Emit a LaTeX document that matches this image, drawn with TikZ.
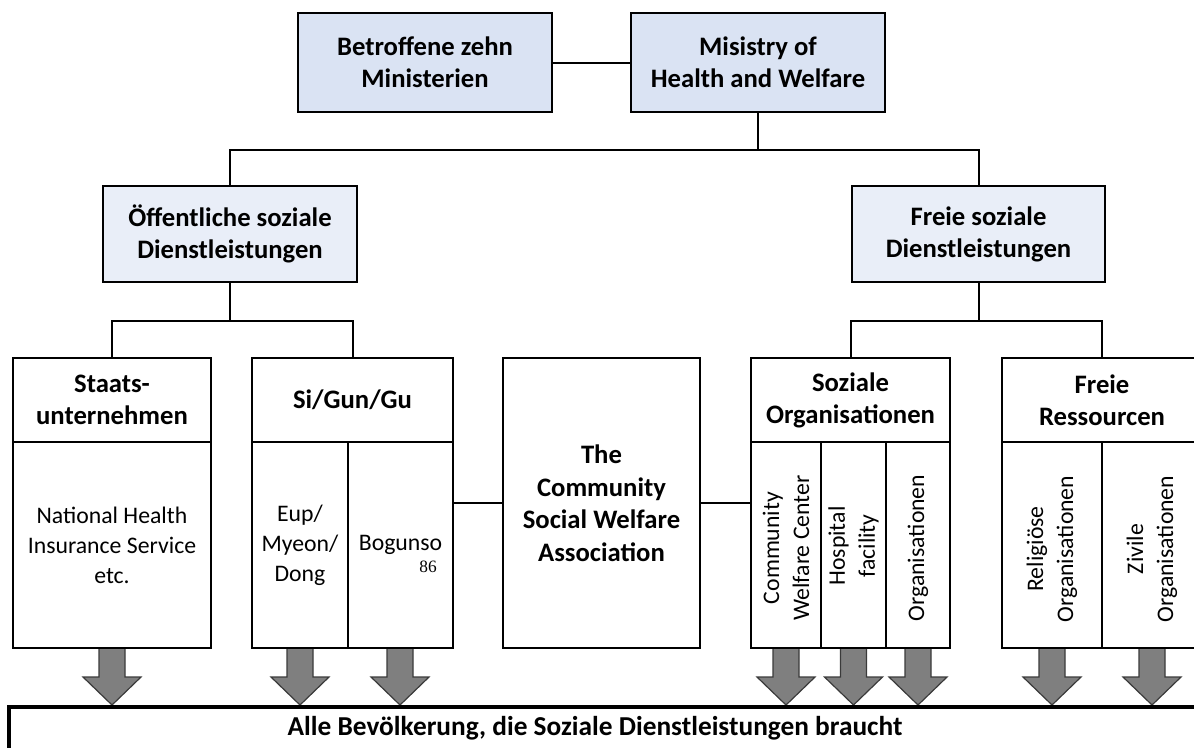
\documentclass[tikz,border=0pt]{standalone}
\usepackage{fontspec}
\setmainfont{Carlito}
\newfontfamily\numserif{Liberation Serif}
\usetikzlibrary{calc}
\definecolor{topblue}{HTML}{DAE3F3}
\definecolor{midblue}{HTML}{E9EEF8}
\definecolor{arrowgray}{HTML}{7F7F7F}
\definecolor{arrowline}{HTML}{3A3A3A}
\begin{document}
\begin{tikzpicture}[x=0.75pt,y=-0.75pt,
  rect/.style n args={4}{minimum width={(#3-#1)*0.75pt}, minimum height={(#4-#2)*0.75pt}, at={({(#1+#3)/2},{(#2+#4)/2})}},
  conn/.style={draw, line width=1.5pt},
  box/.style={draw, line width=1.5pt, inner sep=0pt, outer sep=0pt, align=center, font=\bfseries\fontsize{20}{24}\selectfont},
  bluebox/.style={box, fill=topblue},
  midbox/.style={box, fill=midblue},
  plainbox/.style={draw, line width=1.5pt, inner sep=0pt, outer sep=0pt, align=center, font=\fontsize{17.8}{22.5}\selectfont},
  vtext/.style={rotate=90, anchor=center, align=center, inner sep=0pt, font=\fontsize{17.8}{22.5}\selectfont},
  downarrow/.pic={\draw[fill=arrowgray, draw=arrowline, line width=0.9pt, line join=miter]
     (-13,0) -- (-13,29) -- (-29,29) -- (0,57) -- (29,29) -- (13,29) -- (13,0) -- cycle;}
]
\useasboundingbox (0,0) rectangle (1194,747);

% top level
\node[bluebox, rect={298}{13}{552}{112}] (minis) {Betroffene zehn\\Ministerien};
\node[bluebox, rect={631}{13}{885}{112}] (mohw) {Misistry of\\Health and Welfare};
\node[midbox, rect={103}{186}{357}{282}] (pub) {Öffentliche soziale\\Dienstleistungen};
\node[midbox, rect={852}{186}{1105}{282}] (free) {Freie soziale\\Dienstleistungen};

% arrows (drawn first so box borders lie on top)
\coordinate (aStaats) at (112,648);
\coordinate (aEup) at (300,648);
\coordinate (aBog) at (400,648);
\coordinate (aCwc) at (786,648);
\coordinate (aHos) at (853.5,648);
\coordinate (aOrg) at (918,648);
\coordinate (aRel) at (1052,648);
\coordinate (aZiv) at (1152,648);
\foreach \a in {aStaats,aEup,aBog,aCwc,aHos,aOrg,aRel,aZiv} {\pic at (\a) {downarrow};}

% second level boxes
\node[box, rect={13}{358}{211}{442}] (staatsH) {Staats-\\unternehmen};
\node[plainbox, rect={13}{442}{211}{648}] (staatsB) {National Health\\Insurance Service\\etc.};

\node[box, rect={252}{358}{453}{442}] (siH) {Si/Gun/Gu};
\node[plainbox, rect={252}{442}{348}{648}] (si1) {Eup/\\Myeon/\\Dong};
\node[plainbox, rect={348}{442}{453}{648}] (si2) {Bogunso};
\node[inner sep=0pt, font=\numserif\fontsize{13}{14}\selectfont] (fn) at (428,567) {86};

\node[box, rect={503}{358}{700}{648}, font=\bfseries\fontsize{20}{24.4}\selectfont] (cswa) {The\\Community\\Social Welfare\\Association};

\node[box, rect={751}{358}{950}{442}] (sozH) {Soziale\\Organisationen};
\node[plainbox, rect={751}{442}{821}{648}] (soz1) {};
\node[plainbox, rect={821}{442}{886}{648}] (soz2) {};
\node[plainbox, rect={886}{442}{950}{648}] (soz3) {};

\node[box, rect={1002}{358}{1202}{442}] (frH) {Freie\\Ressourcen};
\node[plainbox, rect={1002}{442}{1102}{648}] (fr1) {};
\node[plainbox, rect={1102}{442}{1202}{648}] (fr2) {};

% rotated texts
\node[vtext] (tCwc) at ($(soz1.center)+(0,3)$) {Community\\Welfare Center};
\node[vtext] (tHos) at ($(soz2.center)+(0,1)$) {Hospital\\facility};
\node[vtext] (tOrg) at ($(soz3.center)+(0,3)$) {Organisationen};
\node[vtext] (tRel) at ($(fr1.center)+(0,4)$) {Religiöse\\Organisationen};
\node[vtext] (tZiv) at ($(fr2.center)+(0,4)$) {Zivile\\Organisationen};

% connectors
\draw[conn] (minis.east) -- (mohw.west);
\coordinate (j1) at ($(mohw.south)+(0,38)$);
\draw[conn] (mohw.south) -- (j1);
\draw[conn] (pub.north) |- (j1) -| (free.north);
\coordinate (j2) at ($(pub.south)+(0,39)$);
\draw[conn] (pub.south) -- (j2);
\draw[conn] (staatsH.north) |- (j2) -| (siH.north);
\coordinate (j3) at ($(free.south)+(0,39)$);
\draw[conn] (free.south) -- (j3);
\draw[conn] (sozH.north) |- (j3) -| (frH.north);
\draw[conn] (cswa.west) -- (cswa.west -| si2.east);
\draw[conn] (cswa.east) -- (cswa.east -| soz1.west);

% bottom box
\node[draw, line width=3pt, inner sep=0pt, rect={9}{707}{1220}{760}] (all) {};
\node[font=\bfseries\fontsize{20.5}{24}\selectfont, inner sep=0pt] (allT) at (595,728) {Alle Bevölkerung, die Soziale Dienstleistungen braucht};
\end{tikzpicture}
\end{document}
